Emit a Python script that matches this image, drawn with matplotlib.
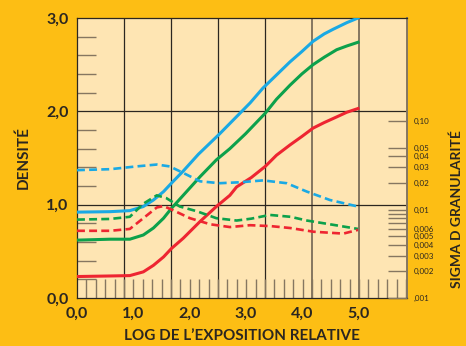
import numpy as np
import matplotlib
matplotlib.use("Agg")
import matplotlib.pyplot as plt
from matplotlib.ticker import FixedLocator, NullFormatter

# curves (log exposure, density)
blue_x = [0.0, 0.59, 0.94, 1.18, 1.36, 1.54, 1.68, 1.89, 2.16, 2.54, 2.72, 2.9,
          3.08, 3.31, 3.55, 3.79, 4.0, 4.2, 4.4, 4.56, 4.8, 5.0]
blue_y = [0.92, 0.925, 0.936, 0.98, 1.05, 1.14, 1.23, 1.36, 1.54, 1.76, 1.87, 1.98,
          2.09, 2.25, 2.39, 2.53, 2.64, 2.75, 2.83, 2.88, 2.95, 3.0]
green_x = [0.0, 0.59, 0.94, 1.18, 1.36, 1.54, 1.68, 1.89, 2.19, 2.48, 2.72, 3.0,
           3.35, 3.55, 3.79, 4.0, 4.2, 4.4, 4.62, 4.8, 5.0]
green_y = [0.62, 0.63, 0.63, 0.675, 0.75, 0.855, 0.96, 1.10, 1.30, 1.48, 1.60, 1.76,
           1.98, 2.13, 2.28, 2.40, 2.50, 2.58, 2.66, 2.70, 2.74]
red_x = [0.0, 0.59, 0.94, 1.18, 1.36, 1.54, 1.68, 1.89, 2.19, 2.48, 2.72, 2.84,
         3.1, 3.35, 3.55, 3.79, 4.0, 4.2, 4.4, 4.62, 4.8, 5.0]
red_y = [0.23, 0.236, 0.24, 0.28, 0.35, 0.44, 0.53, 0.64, 0.82, 0.98, 1.10, 1.19,
         1.29, 1.41, 1.53, 1.64, 1.73, 1.82, 1.88, 1.94, 1.99, 2.03]

blue_dash_x = [0.0, 0.59, 1.06, 1.42, 1.65, 1.89, 2.19, 2.54, 2.9, 3.31, 3.73,
               4.09, 4.5, 5.0]
blue_dash_y = [1.37, 1.38, 1.41, 1.43, 1.41, 1.34, 1.25, 1.23, 1.24, 1.26, 1.23,
               1.14, 1.05, 0.98]
green_dash_x = [0.0, 0.59, 0.94, 1.18, 1.42, 1.59, 1.83, 2.13, 2.48, 2.84, 3.1,
                3.43, 3.8, 4.09, 4.6, 5.0]
green_dash_y = [0.84, 0.847, 0.87, 1.01, 1.10, 1.07, 0.98, 0.93, 0.855, 0.83, 0.85,
                0.89, 0.87, 0.83, 0.78, 0.74]
red_dash_x = [0.0, 0.59, 0.94, 1.18, 1.42, 1.54, 1.71, 2.01, 2.37, 2.72, 3.08,
              3.45, 3.79, 4.21, 4.74, 5.0]
red_dash_y = [0.72, 0.72, 0.74, 0.855, 0.97, 0.985, 0.94, 0.855, 0.79, 0.76, 0.78,
              0.77, 0.75, 0.71, 0.69, 0.73]

x_labels = ["0,0", "1,0", "2,0", "3,0", "4,0", "5,0"]
y_labels = ["0,0", "1,0", "2,0", "3,0"]
sigma_ticks = [0.1, 0.05, 0.04, 0.03, 0.02, 0.01, 0.009, 0.008, 0.007,
               0.006, 0.005, 0.004, 0.003, 0.002, 0.001]
sigma_labels = ["0,10", "0,05", "0,04", "0,03", "0,02", "0,01", "", "", "",
                "0,006", "0,005", "0,004", "0,003", "0,002", ",001"]

BG = "#FDBE14"
PANEL = "#FEE5B3"
DARK = "#2b2620"
TICK = "#857660"
BLUE = "#1AA9E4"
GREEN = "#0CA14B"
RED = "#EE2531"

plt.rcParams['font.family'] = ['Lato', 'DejaVu Sans']
plt.rcParams['font.weight'] = 'bold'

fig = plt.figure(figsize=(4.66, 3.46), dpi=100, facecolor=BG)
ax = fig.add_axes([77 / 466, 48 / 346, 330 / 466, 280 / 346])
ax.set_facecolor(PANEL)

XMAX = 330 / 56.2
cell = 47 / 56.2
ax.set_xlim(0, XMAX)
ax.set_ylim(0, 3.0)

# grid
for k in range(1, 7):
    ax.axvline(k * cell, color=DARK if k < 5 else TICK, lw=0.9 if k < 5 else 1.4, zorder=1)
for v in [1.0, 2.0]:
    ax.axhline(v, color=DARK, lw=0.9, zorder=1)

ax.plot(blue_x, blue_y, color=BLUE, lw=2.2, zorder=3, solid_joinstyle='round')
ax.plot(green_x, green_y, color=GREEN, lw=2.2, zorder=3, solid_joinstyle='round')
ax.plot(red_x, red_y, color=RED, lw=2.2, zorder=3, solid_joinstyle='round')
ax.plot(blue_dash_x, blue_dash_y, color=BLUE, lw=1.9, dashes=(3, 1.6), zorder=3)
ax.plot(green_dash_x, green_dash_y, color=GREEN, lw=1.9, dashes=(3, 1.6), zorder=3)
ax.plot(red_dash_x, red_dash_y, color=RED, lw=1.9, dashes=(3, 1.6), zorder=3)

ax.set_xticks(range(6))
ax.set_xticklabels(x_labels, fontsize=11.5, fontweight='bold', color=DARK)
ax.xaxis.set_minor_locator(FixedLocator(np.arange(1, 36) * cell / 5))
ax.set_yticks([0, 1, 2, 3])
ax.set_yticklabels(y_labels, fontsize=11.5, fontweight='bold', color=DARK)
ax.yaxis.set_minor_locator(FixedLocator(np.arange(0.2, 3.0, 0.2)))
ax.tick_params(which='major', length=0, pad=6)
ax.tick_params(which='minor', direction='in', length=13.5, width=1.0, color=TICK)

for s in ax.spines.values():
    s.set_color(DARK)
    s.set_linewidth(0.9)
ax.spines['right'].set_color(TICK)
ax.spines['right'].set_linewidth(1.4)

ax.set_xlabel("LOG DE L\u2019EXPOSITION RELATIVE", fontsize=11, fontweight='bold',
              color=DARK, labelpad=6)
ax.set_ylabel("DENSITÉ", fontsize=11, fontweight='bold', color=DARK, labelpad=11)

ax2 = ax.twinx()
ax2.set_yscale('log')
ax2.set_ylim(0.001, 0.001 * 10 ** (280 / 88.5))
ax2.yaxis.set_major_locator(FixedLocator(sigma_ticks))
ax2.yaxis.set_minor_locator(FixedLocator([]))
ax2.yaxis.set_minor_formatter(NullFormatter())
ax2.set_yticklabels(sigma_labels, fontsize=5.8, fontweight='normal', color=DARK)
ax2.tick_params(axis='y', direction='in', length=13.5, width=1.0, color=TICK, pad=5)
for s in ax2.spines.values():
    s.set_visible(False)
ax2.set_ylabel("SIGMA D GRANULARITÉ", fontsize=10, fontweight='bold', color=DARK,
               rotation=90, va='center', ha='center')
ax2.yaxis.set_label_coords((457 - 77) / 330, (298 - 209) / 280)

fig.savefig("out.png", dpi=100, facecolor=BG)
